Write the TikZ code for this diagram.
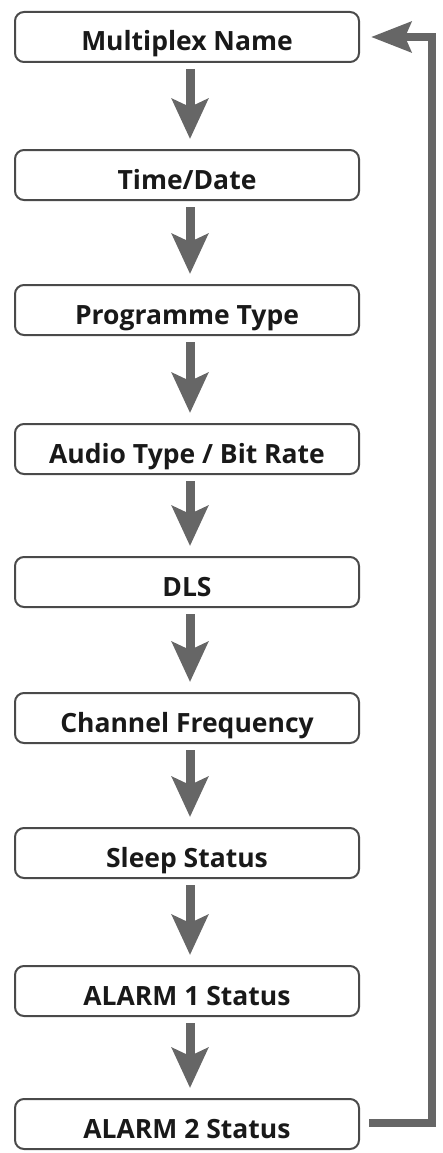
\documentclass[tikz,border=0pt]{standalone}
\usepackage{fontspec}
\setmainfont{Open Sans}
\usetikzlibrary{arrows.meta}
\definecolor{boxline}{HTML}{4A4A4A}
\definecolor{arr}{HTML}{666666}
\tikzset{
  stepbox/.style={draw=boxline, line width=2pt, rounded corners=9pt, minimum width=344pt, minimum height=50pt, inner sep=0pt, text height=28pt, text depth=0pt, font=\fontsize{26.5}{30}\selectfont\bfseries, text=black!90},
  flow/.style={draw=arr, line width=9pt, -{Stealth[width=36pt,length=40pt,inset=8pt]}, shorten >=10pt, shorten <=6pt},
  back/.style={draw=arr, line width=8pt, -{Stealth[width=30pt,length=40pt,inset=6pt]}}
}
\begin{document}
\begin{tikzpicture}[x=1pt,y=1pt]
\useasboundingbox (0,0) rectangle (442,-1153);
\node[stepbox] (n1) at (187,-37) {Multiplex Name};
\node[stepbox] (n2) at (187,-175) {Time/Date};
\node[stepbox] (n3) at (187,-310) {Programme Type};
\node[stepbox] (n4) at (187,-449) {Audio Type / Bit Rate};
\node[stepbox] (n5) at (187,-582) {DLS};
\node[stepbox] (n6) at (187,-718) {Channel Frequency};
\node[stepbox] (n7) at (187,-853) {Sleep Status};
\node[stepbox] (n8) at (187,-991) {ALARM 1 Status};
\node[stepbox] (n9) at (187,-1124) {ALARM 2 Status};
\foreach \a/\b in {n1/n2,n2/n3,n3/n4,n4/n5,n5/n6,n6/n7,n7/n8,n8/n9}{
  \draw[flow] ([xshift=3pt]\a.south) -- ([xshift=3pt]\b.north);
}
\coordinate (c1) at (432,-1123);
\coordinate (c2) at (432,-37);
\draw[back] ([xshift=9pt]n9.east |- 0,-1123) -- (c1) -- (c2) -- ([xshift=11pt]n1.east |- 0,-37);
\end{tikzpicture}
\end{document}
